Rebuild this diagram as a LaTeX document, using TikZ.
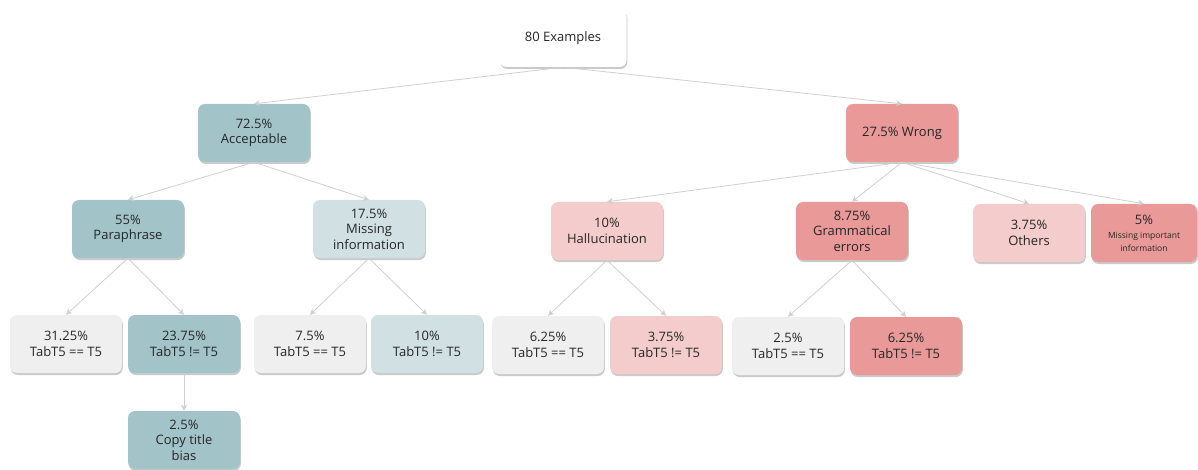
\documentclass[tikz,border=0pt]{standalone}
\usepackage{fontspec}
\setmainfont{Open Sans}
\usetikzlibrary{shadows,arrows.meta}
\definecolor{tealD}{HTML}{A2C4C9}
\definecolor{tealL}{HTML}{D0E0E3}
\definecolor{pinkL}{HTML}{F4CCCC}
\definecolor{redM}{HTML}{EA9999}
\definecolor{grayL}{HTML}{EFEFEF}
\definecolor{txt}{HTML}{262626}
\definecolor{edge}{HTML}{CFCFCF}
\tikzset{
  box/.style={rounded corners=7pt, minimum width=112pt, minimum height=58pt, inner sep=1pt,
    align=center, text=txt, font=\fontsize{13}{15.5}\selectfont,
    drop shadow={shadow xshift=0.8pt, shadow yshift=-2pt, opacity=0.35, fill=black!60}},
  conn/.style={draw=edge, line width=0.8pt, -{Stealth[length=6pt,width=6pt]}}
}
\begin{document}
\begin{tikzpicture}[x=1pt,y=-1pt]
\useasboundingbox (0,0) rectangle (1198,470);
\node[box, fill=white, minimum width=127pt] (root) at (563,38) {80 Examples};
\node[box, fill=tealD] (acc) at (254,133) {72.5\%\\Acceptable};
\node[box, fill=redM] (wrong) at (902,133) {27.5\% Wrong};
\node[box, fill=tealD] (para) at (128,229) {55\%\\Paraphrase};
\node[box, fill=tealL] (miss) at (369,229) {17.5\%\\Missing\\information};
\node[box, fill=pinkL] (hall) at (607,231) {10\%\\Hallucination};
\node[box, fill=redM] (gram) at (852,231) {8.75\%\\Grammatical\\errors};
\node[box, fill=pinkL] (oth) at (1029,233) {3.75\%\\Others};
\node[box, fill=redM, minimum width=106pt] (mii) at (1144,233) {5\%\\[-1pt]{\fontsize{8.5}{10}\selectfont Missing important}\\[-3pt]{\fontsize{8.5}{10}\selectfont information}};
\node[box, fill=grayL] (p1) at (66,344) {31.25\%\\TabT5 == T5};
\node[box, fill=tealD] (p2) at (184,344) {23.75\%\\TabT5 != T5};
\node[box, fill=grayL] (m1) at (310,344) {7.5\%\\TabT5 == T5};
\node[box, fill=tealL] (m2) at (427,344) {10\%\\TabT5 != T5};
\node[box, fill=grayL] (h1) at (548,345) {6.25\%\\TabT5 == T5};
\node[box, fill=pinkL] (h2) at (666,345) {3.75\%\\TabT5 != T5};
\node[box, fill=grayL] (g1) at (788,346) {2.5\%\\TabT5 == T5};
\node[box, fill=redM] (g2) at (906,346) {6.25\%\\TabT5 != T5};
\node[box, fill=tealD] (cop) at (184,440) {2.5\%\\Copy title\\bias};
\draw[conn] (root.south) -- (acc.north);
\draw[conn] (root.south) -- (wrong.north);
\draw[conn] (acc.south) -- (para.north);
\draw[conn] (acc.south) -- (miss.north);
\draw[conn] (wrong.south) -- (hall.north);
\draw[conn] (wrong.south) -- (gram.north);
\draw[conn] (wrong.south) -- (oth.north);
\draw[conn] (wrong.south) -- (mii.north);
\draw[conn] (para.south) -- (p1.north);
\draw[conn] (para.south) -- (p2.north);
\draw[conn] (miss.south) -- (m1.north);
\draw[conn] (miss.south) -- (m2.north);
\draw[conn] (hall.south) -- (h1.north);
\draw[conn] (hall.south) -- (h2.north);
\draw[conn] (gram.south) -- (g1.north);
\draw[conn] (gram.south) -- (g2.north);
\draw[conn] (p2.south) -- (cop.north);
\end{tikzpicture}
\end{document}
